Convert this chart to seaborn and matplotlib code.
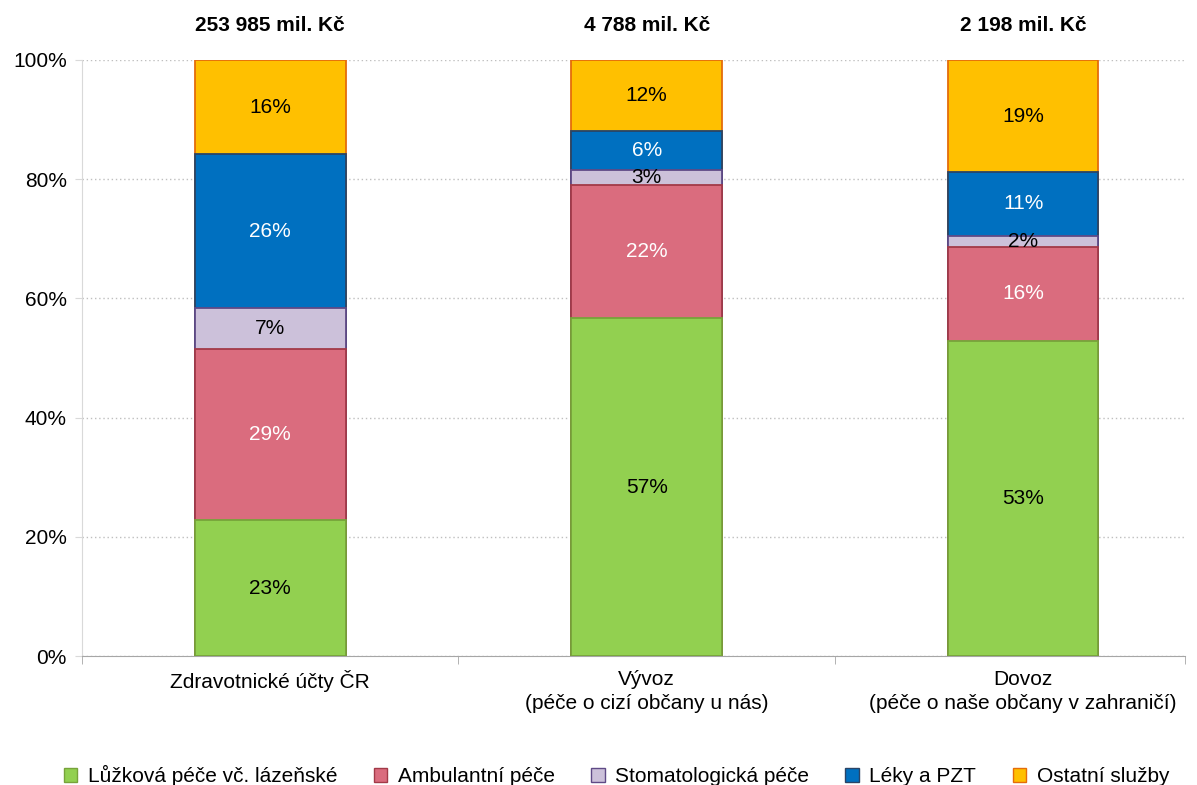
import pandas as pd
import numpy as np
import matplotlib.pyplot as plt
import seaborn as sns
from matplotlib.patches import Patch
from matplotlib.ticker import FixedLocator

kategorie = ["Zdravotnické účty ČR", "Vývoz\n(péče o cizí občany u nás)", "Dovoz\n(péče o naše občany v zahraničí)"]
celkem = ["253 985 mil. Kč", "4 788 mil. Kč", "2 198 mil. Kč"]
druhy = ["Lůžková péče vč. lázeňské", "Ambulantní péče", "Stomatologická péče", "Léky a PZT", "Ostatní služby"]

luzkova = [22.8, 56.7, 52.9]
ambulantni = [28.7, 22.3, 15.7]
stomatologicka = [6.9, 2.6, 1.9]
leky = [25.8, 6.5, 10.7]
ostatni = [15.8, 11.9, 18.8]

BARVY = ["#92D050", "#DA6C7E", "#CCC1DA", "#0070C0", "#FFC000"]
OKRAJE = ["#77A33A", "#A23A48", "#5F4A86", "#2A4466", "#E46C0A"]
TEXT = ["black", "white", "black", "white", "black"]

plt.rcParams["font.family"] = ["Liberation Sans", "DejaVu Sans"]

df = pd.DataFrame({"kat": kategorie, druhy[0]: luzkova, druhy[1]: ambulantni,
                   druhy[2]: stomatologicka, druhy[3]: leky, druhy[4]: ostatni})
kum = df[druhy].cumsum(axis=1)

fig = plt.figure(figsize=(11.97, 7.85), dpi=100)
ax = fig.add_axes([0.0685, 0.1643, 0.9215, 0.7593])

# kumulativni sloupce od nejvyssiho, mensi prekryji vetsi
for i in reversed(range(len(druhy))):
    sns.barplot(data=kum.assign(kat=df["kat"]), x="kat", y=druhy[i], color=BARVY[i],
                edgecolor=OKRAJE[i], linewidth=1.3, width=0.4, saturation=1, ax=ax, zorder=3)

for j in range(len(kategorie)):
    for i, d in enumerate(druhy):
        v = df[d][j]
        stred = kum[d][j] - v / 2
        ax.text(j, stred, f"{v:.0f}%", ha="center", va="center", fontsize=15, color=TEXT[i], zorder=5)
    ax.text(j, 104.2, celkem[j], ha="center", va="bottom", fontsize=15, fontweight="bold")

ax.set_ylim(0, 100)
ax.set_xlim(-0.5, 2.43)
ax.set_yticks(np.arange(0, 101, 20))
ax.set_yticklabels([f"{t}%" for t in range(0, 101, 20)], fontsize=15)
ax.yaxis.grid(True, linestyle=(0, (1, 2)), color="#BFBFBF", linewidth=1, zorder=0)
ax.set_axisbelow(True)
ax.tick_params(axis="y", length=5, color="#D9D9D9", pad=6)
ax.tick_params(axis="x", which="major", length=0, pad=10, labelsize=15)
for t in ax.get_xticklabels():
    t.set_linespacing(1.35)
ax.xaxis.set_minor_locator(FixedLocator([-0.5, 0.5, 1.5, 2.43]))
ax.tick_params(axis="x", which="minor", length=6, color="#A6A6A6")
ax.set_xlabel("")
ax.set_ylabel("")
for s in ["top", "right"]:
    ax.spines[s].set_visible(False)
ax.spines["left"].set_color("#D9D9D9")
ax.spines["bottom"].set_color("#A6A6A6")

handles = [Patch(facecolor=BARVY[i], edgecolor=OKRAJE[i], label=druhy[i]) for i in range(len(druhy))]
fig.legend(handles=handles, loc="lower center", bbox_to_anchor=(0.515, -0.025), ncol=5, frameon=False,
           fontsize=15, handlelength=0.65, handleheight=0.65, columnspacing=1.75, handletextpad=0.5)

plt.savefig("out.png", dpi=100)
plt.close()
